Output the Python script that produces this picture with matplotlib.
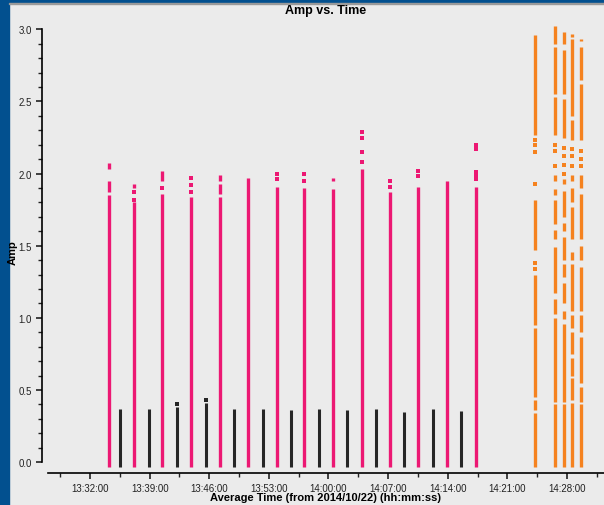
import matplotlib.pyplot as plt
from matplotlib.ticker import MultipleLocator, FuncFormatter
from matplotlib.patches import Rectangle

plt.rcParams['font.family'] = ['Liberation Sans', 'DejaVu Sans']


def hms(h, m, s):
    return h * 3600 + m * 60 + s


BOT = -0.035

# magenta scans: time, continuous segments (top, bottom), isolated points
mag_t = [hms(13, 34, 12), hms(13, 37, 10), hms(13, 40, 29), hms(13, 43, 51),
         hms(13, 47, 14), hms(13, 50, 35), hms(13, 53, 55), hms(13, 57, 7),
         hms(14, 0, 34), hms(14, 3, 54), hms(14, 7, 13), hms(14, 10, 33),
         hms(14, 13, 57), hms(14, 17, 17)]
mag_segs = [[(2.07, 2.03), (1.95, 1.87), (1.85, BOT)],
            [(1.93, 1.90), (1.80, BOT)],
            [(2.02, 1.95), (1.86, BOT)],
            [(1.84, BOT)],
            [(1.99, 1.95), (1.93, 1.86), (1.84, BOT)],
            [(1.97, BOT)],
            [(1.91, BOT)],
            [(1.90, BOT)],
            [(1.97, 1.95), (1.89, BOT)],
            [(2.03, BOT)],
            [(1.87, BOT)],
            [(1.91, BOT)],
            [(1.95, BOT)],
            [(1.91, BOT)]]
mag_dots = [[], [1.87, 1.82], [1.90], [1.97, 1.92, 1.87], [], [], [2.00, 1.96],
            [2.00, 1.95], [], [2.29, 2.25, 2.15, 2.08], [1.95, 1.91], [2.02, 1.98],
            [], [2.20, 2.17, 2.01, 1.98, 1.96]]

# black scans
blk_t = [hms(13, 35, 33), hms(13, 38, 53), hms(13, 42, 13), hms(13, 45, 35),
         hms(13, 48, 56), hms(13, 52, 19), hms(13, 55, 36), hms(13, 58, 53),
         hms(14, 2, 12), hms(14, 5, 35), hms(14, 8, 54), hms(14, 12, 14),
         hms(14, 15, 36)]
blk_top = [0.37, 0.37, 0.38, 0.41, 0.37, 0.37, 0.36, 0.37, 0.36, 0.37, 0.35, 0.37, 0.355]
blk_dots = [[], [], [0.40], [0.43], [], [], [], [], [], [], [], [], []]

# orange scans
org_t = [hms(14, 24, 17), hms(14, 26, 38), hms(14, 27, 39), hms(14, 28, 37), hms(14, 29, 39)]
org_segs = [[(2.96, 2.27), (1.82, 1.47), (1.30, 0.95), (0.93, 0.45), (0.43, 0.36), (0.34, BOT)],
            [(3.02, 2.90), (2.88, 2.55), (2.53, 2.27), (1.99, 1.95), (1.89, 1.85), (1.82, 1.65),
             (1.61, 1.55), (1.49, 1.17), (1.13, 1.03), (1.00, 0.42), (0.40, BOT)],
            [(2.98, 2.90), (2.86, 2.55), (2.52, 2.25), (1.96, 1.93), (1.88, 1.70), (1.66, 1.60),
             (1.56, 1.40), (1.37, 1.28), (1.24, 1.10), (1.05, 0.99), (0.96, 0.42), (0.40, BOT)],
            [(2.97, 2.95), (2.93, 2.40), (2.37, 2.23), (1.99, 1.95), (1.90, 1.80), (1.77, 1.55),
             (1.46, 1.40), (1.37, 1.05), (1.02, 0.93), (0.90, 0.75), (0.72, 0.60), (0.58, 0.43),
             (0.41, BOT)],
            [(2.93, 2.92), (2.88, 2.65), (2.62, 2.23), (1.99, 1.90), (1.86, 1.55), (1.50, 1.40),
             (1.35, 1.05), (1.02, 0.90), (0.87, 0.55), (0.52, 0.42), (0.40, BOT)]]
org_dots = [[2.23, 2.20, 2.15, 1.93, 1.38, 1.34],
            [2.20, 2.16, 2.05],
            [2.18, 2.12, 2.06, 2.00],
            [2.17, 2.12, 2.05],
            [2.16, 2.10, 2.05]]

MAG = '#ec1873'
BLK = '#262626'
ORG = '#f5821f'
BG = '#ebebeb'

fig = plt.figure(figsize=(6.04, 5.06), dpi=100, facecolor=BG)
W, H = 604, 506
# blue window border, kept behind the axes
fig.patches.append(Rectangle((0, 0), 9 / W, 1, transform=fig.transFigure, color='#02508f', zorder=-5))
fig.patches.append(Rectangle((0, 1 - 4 / H), 1, 4 / H, transform=fig.transFigure, color='#02508f', zorder=-5))
fig.patches.append(Rectangle((9 / W, 1 - 5 / H), 1, 1 / H, transform=fig.transFigure, color='#9a9a9a', zorder=-5))

ax = fig.add_axes([48 / W, (H - 474) / H, 1 - 48 / W, (474 - 30.3) / H])
ax.set_facecolor(BG)


def draw(ts, segs, dots, color, lw):
    for t, ss, ds in zip(ts, segs, dots):
        for hi, lo in ss:
            ax.vlines(t, lo, hi, color=color, lw=lw, clip_on=False)
        if ds:
            ax.scatter([t] * len(ds), ds, s=7, marker='s', color=color, lw=0, clip_on=False)


draw(mag_t, mag_segs, mag_dots, MAG, 2.4)
draw(blk_t, [[(top, BOT)] for top in blk_top], blk_dots, BLK, 2.2)
draw(org_t, org_segs, org_dots, ORG, 2.4)

ax.set_xlim(hms(13, 27, 4), hms(14, 32, 21))
ax.set_ylim(-0.075, 3.0)

for s in ['top', 'right']:
    ax.spines[s].set_visible(False)
ax.spines['left'].set_position(('outward', 4.3))
ax.spines['left'].set_bounds(0, 3)
ax.spines['left'].set_linewidth(1.2)
ax.spines['bottom'].set_linewidth(1.2)

ax.yaxis.set_major_locator(MultipleLocator(0.5))
ax.yaxis.set_minor_locator(MultipleLocator(0.1))
ax.xaxis.set_major_locator(MultipleLocator(420))
ax.xaxis.set_minor_locator(MultipleLocator(210))
ax.xaxis.set_major_formatter(FuncFormatter(
    lambda v, p: '%02d:%02d:%02d' % (int(v) // 3600, int(v) % 3600 // 60, int(v) % 60)))
ax.tick_params(axis='both', which='major', length=4, width=1.2, labelsize=7, colors='#222222')
ax.tick_params(axis='both', which='minor', length=3, width=1.0, colors='#222222')
ax.tick_params(axis='x', which='major', pad=3)

ax.set_title('Amp vs. Time', fontsize=9, fontweight='bold', pad=12)
ax.set_xlabel('Average Time (from 2014/10/22) (hh:mm:ss)', fontsize=8, fontweight='bold')
ax.xaxis.set_label_coords(0.5, -19 / 443.7)
ax.set_ylabel('Amp', fontsize=8, fontweight='bold')
ax.yaxis.set_label_coords(-30 / 556, 0.5)

fig.savefig('out.png', dpi=100, facecolor=BG)
